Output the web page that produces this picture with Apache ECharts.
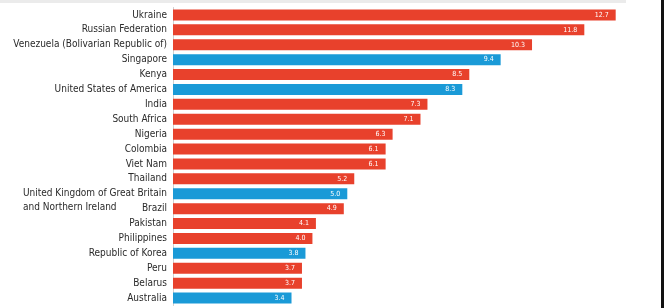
<!DOCTYPE html>
<html><head><meta charset="utf-8">
<script src="https://cdn.jsdelivr.net/npm/echarts@6/dist/echarts.min.js"></script>
<style>html,body{margin:0;padding:0;background:#fff}#c{width:664px;height:308px}</style>
</head><body><div id="c"></div>
<script>
const categories = ["Ukraine","Russian Federation","Venezuela (Bolivarian Republic of)","Singapore","Kenya","United States of America","India","South Africa","Nigeria","Colombia","Viet Nam","Thailand","United Kingdom of Great Britain and Northern Ireland","Brazil","Pakistan","Philippines","Republic of Korea","Peru","Belarus","Australia"];
const values = [12.7,11.8,10.3,9.4,8.5,8.3,7.3,7.1,6.3,6.1,6.1,5.2,5.0,4.9,4.1,4.0,3.8,3.7,3.7,3.4];
const blueGroup = ["Singapore","United States of America","United Kingdom of Great Britain and Northern Ireland","Republic of Korea","Australia"];
const RED = '#E8412C', BLUE = '#1A9AD7';
const FONT = '"DejaVu Sans Condensed","Liberation Sans Narrow",Arial,sans-serif';
const FS = 10;
const UK = "United Kingdom of Great Britain and Northern Ireland";

const chart = echarts.init(document.getElementById('c'), null, {renderer:'canvas'});
chart.setOption({
  animation:false,
  graphic:[
    {type:'rect', shape:{x:0,y:0,width:626,height:3}, style:{fill:'#ebebeb'}, silent:true},
    {type:'rect', shape:{x:661,y:0,width:3,height:308}, style:{fill:'#111'}, silent:true}
  ],
  grid:{left:173, top:7.5, width:488, height:298, containLabel:false, outerBoundsMode:'none'},
  xAxis:{type:'value', min:0, max:14, show:false},
  yAxis:{type:'category', inverse:true,
    data: categories.map(c => c === UK ? {value:c, textStyle:{align:'right'}} : c),
    axisLine:{show:true, lineStyle:{color:'#d0d0d0', width:1}},
    axisTick:{show:false},
    axisLabel:{margin:6, color:'#2a2a2a', fontFamily:FONT, fontSize:FS, interval:0,
      formatter: v => v === UK ? '{e|}\n{a|United Kingdom of Great Britain}\n{b|and Northern Ireland}' : v,
      rich:{
        e:{fontFamily:FONT, fontSize:FS, lineHeight:14, color:'#2a2a2a'},
        a:{fontFamily:FONT, fontSize:FS, lineHeight:14, color:'#2a2a2a', align:'left'},
        b:{fontFamily:FONT, fontSize:FS, lineHeight:14, color:'#2a2a2a', align:'left'}
      }
    }
  },
  series:[{
    type:'bar', barWidth:11,
    data: values.map((v,i) => ({value:v, itemStyle:{color: blueGroup.includes(categories[i]) ? BLUE : RED}})),
    label:{show:true, position:'insideRight', offset:[-2,0], color:'#fff', fontFamily:FONT, fontSize:7,
      formatter: p => p.value.toFixed(1)}
  }]
});
</script></body></html>
